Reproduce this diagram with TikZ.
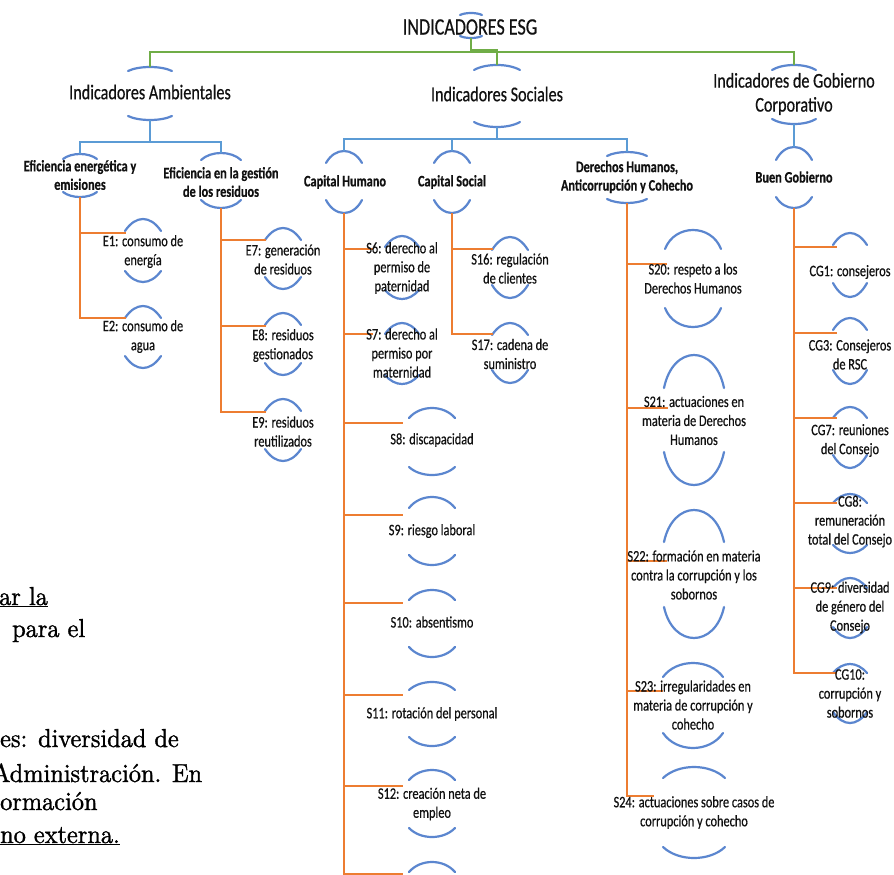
\documentclass[tikz,border=0pt]{standalone}
\usepackage{fontspec}
\newfontfamily\dfont{Carlito}[FakeStretch=0.77,FakeBold=0.5]
\newfontfamily\bodyfont{lmroman10-regular.otf}[FakeBold=1.2,FakeStretch=0.935]
\definecolor{arcblue}{HTML}{5B86CF}
\definecolor{lnblue}{HTML}{5B9BD5}
\definecolor{lngreen}{HTML}{70AD47}
\definecolor{lnorange}{HTML}{ED7D31}
\definecolor{txt}{HTML}{111111}
\tikzset{
  arcst/.style={draw=arcblue, line width=2.2pt, line cap=round},
  gline/.style={draw=lngreen, line width=2pt},
  bline/.style={draw=lnblue, line width=2.5pt},
  oline/.style={draw=lnorange, line width=2.5pt},
  ttlst/.style={font=\dfont\fontsize{23.5}{27}\selectfont, text=txt, inner sep=0pt},
  lvone/.style={font=\dfont\fontsize{21}{24}\selectfont, text=txt, align=center, inner sep=0pt},
  lvtwo/.style={font=\dfont\bfseries\fontsize{16}{18.5}\selectfont, text=txt, align=center, inner sep=0pt},
  leaf/.style={font=\dfont\fontsize{16}{19}\selectfont, text=txt, align=center, inner sep=0pt},
  bodytxt/.style={font=\bodyfont\fontsize{26}{30}\selectfont, text=black, inner sep=0pt, anchor=base west},
}
% name, cx, ty, ht, by, hb, w, k
\newcommand\myarcs[8]{%
  \coordinate (#1-t) at (#2,#3);
  \coordinate (#1-b) at (#2,#5);
  \draw[arcst] ({#2-#7},{#3+#4}) .. controls ({#2-#8*#7},{#3-#4/3}) and ({#2+#8*#7},{#3-#4/3}) .. ({#2+#7},{#3+#4});
  \draw[arcst] ({#2-#7},{#5-#6}) .. controls ({#2-#8*#7},{#5+#6/3}) and ({#2+#8*#7},{#5+#6/3}) .. ({#2+#7},{#5-#6});
}
\begin{document}
\begin{tikzpicture}[x=1pt,y=-1pt]
\useasboundingbox (0,0) rectangle (894,875);
\fill[white] (0,0) rectangle (894,875);

% ---------- left body text (cut off) ----------
\node[bodytxt] (p1) at (-1,605) {\underline{ar la}};
\node[bodytxt] (p2) at (12,637) {para el};
\node[bodytxt] (p3) at (0,747) {es: diversidad de};
\node[bodytxt] (p4) at (-8,782) {Administración. En};
\node[bodytxt] (p5) at (0,810) {ormación};
\node[bodytxt] (p6) at (0,843) {\underline{no externa.}};

% ---------- arcs ----------
\myarcs{ttl}{471}{13}{2}{38}{2}{11}{0.5}
\myarcs{amb}{150}{67}{4}{120}{4}{22}{0.5}
\myarcs{soc}{497}{65}{5}{127}{5}{23}{0.5}
\myarcs{gob}{794}{65}{5}{124}{5}{22}{0.5}
\myarcs{effa}{80}{154}{5}{197}{5}{17}{0.5}
\myarcs{effb}{221}{153}{7}{208}{8}{20}{0.5}
\myarcs{ch}{344}{151}{12}{213}{13}{18}{0.5}
\myarcs{cs}{452}{151}{12}{213}{13}{18}{0.5}
\myarcs{dh}{627}{152}{4}{203}{4}{20}{0.5}
\myarcs{bg}{794}{147}{13}{208}{11}{18}{0.5}

\myarcs{ea}{143}{219}{12}{282}{11}{18}{0.4}
\myarcs{eb}{143}{306}{12}{368}{12}{18}{0.4}
\myarcs{eg}{283}{228}{12}{289}{12}{18}{0.4}
\myarcs{eh}{283}{313}{12}{375}{12}{18}{0.4}
\myarcs{ei}{283}{399}{12}{461}{12}{18}{0.4}

\myarcs{sf}{402}{236}{11}{299}{9}{17}{0.4}
\myarcs{sg}{402}{323}{11}{384}{9}{17}{0.4}
\myarcs{sp}{510}{237}{13}{298}{13}{18}{0.4}
\myarcs{sq}{510}{323}{12}{383}{13}{18}{0.4}

\myarcs{sh}{432}{408}{10}{475}{8}{23}{0.5}
\myarcs{si}{432}{497}{11}{565}{10}{23}{0.5}
\myarcs{sj}{432}{590}{10}{657}{10}{23}{0.5}
\myarcs{sk}{432}{682}{8}{746}{9}{23}{0.5}
\myarcs{sl}{432}{770}{10}{837}{9}{23}{0.5}
\myarcs{sm}{432}{862}{10}{930}{9}{23}{0.5}

\myarcs{st}{693}{230}{19}{327}{19}{28}{0.65}
\myarcs{su}{694}{355}{33}{485}{33}{30}{0.7}
\myarcs{sv}{694}{510}{32}{638}{31}{30}{0.7}
\myarcs{sw}{693}{663}{14}{748}{15}{30}{0.55}
\myarcs{sx}{694}{767}{11}{858}{11}{31}{0.5}

\myarcs{ca}{850}{233}{12}{297}{14}{17}{0.4}
\myarcs{cc}{850}{318}{12}{384}{14}{17}{0.4}
\myarcs{cg}{850}{407}{11}{468}{13}{17}{0.4}
\myarcs{ch8}{850}{494}{9}{553}{8}{17}{0.4}
\myarcs{ci}{850}{578}{10}{638}{11}{17}{0.4}
\myarcs{cj}{850}{664}{9}{723}{11}{17}{0.4}

% ---------- connector end points ----------
\coordinate (eac) at (126,233);
\coordinate (ebc) at (126,318);
\coordinate (egc) at (266,240);
\coordinate (ehc) at (266,326);
\coordinate (eic) at (266,412);
\coordinate (sfc) at (373,249);
\coordinate (sgc) at (373,334);
\coordinate (spc) at (493,249);
\coordinate (sqc) at (493,334);
\coordinate (shc) at (403,423);
\coordinate (sic) at (403,515);
\coordinate (sjc) at (403,603);
\coordinate (skc) at (403,695);
\coordinate (slc) at (403,786);
\coordinate (smc) at (403,874);
\coordinate (stc) at (667,264);
\coordinate (suc) at (668,408);
\coordinate (svc) at (667,561);
\coordinate (swc) at (663,691);
\coordinate (sxc) at (654,796);
\coordinate (cac) at (837,247);
\coordinate (ccc) at (837,333);
\coordinate (cgc) at (837,418);
\coordinate (chc) at (837,503);
\coordinate (cic) at (837,588);
\coordinate (cjc) at (837,673);

% ---------- connectors ----------
\draw[gline] (ttl-b) -- ++(0,14) -| (amb-t);
\draw[gline] (ttl-b) -- ++(0,12) -| (soc-t);
\draw[gline] (ttl-b) -- ++(0,14) -| (gob-t);

\draw[bline] (amb-b) -- ++(0,22) -| (effa-t);
\draw[bline] (amb-b) -- ++(0,22) -| (effb-t);
\draw[bline] (soc-b) -- ++(0,12) -| (ch-t);
\draw[bline] (soc-b) -- ++(0,12) -| (cs-t);
\draw[bline] (soc-b) -- ++(0,12) -| (dh-t);
\draw[bline] (gob-b) -- (bg-t);

\foreach \c in {eac,ebc} \draw[oline] (effa-b) |- (\c);
\foreach \c in {egc,ehc,eic} \draw[oline] (effb-b) |- (\c);
\foreach \c in {sfc,sgc,shc,sic,sjc,skc,slc,smc} \draw[oline] (ch-b) |- (\c);
\draw[oline] (smc -| ch-b) -- ++(0,3);
\foreach \c in {spc,sqc} \draw[oline] (cs-b) |- (\c);
\foreach \c in {stc,suc,svc,swc,sxc} \draw[oline] (dh-b) |- (\c);
\foreach \c in {cac,ccc,cgc,chc,cic,cjc} \draw[oline] (bg-b) |- (\c);

% ---------- texts ----------
\node[ttlst] (ttl) at (470,27) {INDICADORES ESG};
\node[lvone] (amb) at (150,92) {Indicadores Ambientales};
\node[lvone] (soc) at (497,94) {Indicadores Sociales};
\node[lvone] (gob) at (794,94) {Indicadores de Gobierno\\Corporativo};

\node[lvtwo] (effa) at (80,175) {Eficiencia energética y\\emisiones};
\node[lvtwo] (effb) at (221,182) {Eficiencia en la gestión\\de los residuos};
\node[lvtwo] (ch) at (345,182) {Capital Humano};
\node[lvtwo] (cs) at (452,182) {Capital Social};
\node[lvtwo] (dh) at (627,177) {Derechos Humanos,\\Anticorrupción y Cohecho};
\node[lvtwo] (bg) at (794,177) {Buen Gobierno};

\node[leaf] (ea) at (143,251.5) {E1: consumo de\\energía};
\node[leaf] (eb) at (143,336.5) {E2: consumo de\\agua};
\node[leaf] (eg) at (283,259.5) {E7: generación\\de residuos};
\node[leaf] (eh) at (283,345.5) {E8: residuos\\gestionados};
\node[leaf] (ei) at (283,431.5) {E9: residuos\\reutilizados};

\node[leaf] (sf) at (402,268) {S6: derecho al\\permiso de\\paternidad};
\node[leaf] (sg) at (402,353) {S7: derecho al\\permiso por\\maternidad};
\node[leaf] (sp) at (510,268.5) {S16: regulación\\de clientes};
\node[leaf] (sq) at (510,354) {S17: cadena de\\suministro};

\node[leaf] (sh) at (432,440) {S8: discapacidad};
\node[leaf] (si) at (432,531) {S9: riesgo laboral};
\node[leaf] (sj) at (432,622) {S10: absentismo};
\node[leaf] (sk) at (432,714) {S11: rotación del personal};
\node[leaf] (sl) at (432,804) {S12: creación neta de\\empleo};

\node[leaf] (st) at (693,278.5) {S20: respeto a los\\Derechos Humanos};
\node[leaf] (su) at (694,420.5) {S21: actuaciones en\\materia de Derechos\\Humanos};
\node[leaf] (sv) at (694,575) {S22: formación en materia\\contra la corrupción y los\\sobornos};
\node[leaf] (sw) at (693,705) {S23: irregularidades en\\materia de corrupción y\\cohecho};
\node[leaf] (sx) at (694,812.5) {S24: actuaciones sobre casos de\\corrupción y cohecho};

\node[leaf] (ca) at (850,272) {CG1: consejeros};
\node[leaf] (cc) at (850,354.5) {CG3: Consejeros\\de RSC};
\node[leaf] (cg) at (850,440.5) {CG7: reuniones\\del Consejo};
\node[leaf] (ch8) at (850,521.5) {CG8:\\remuneración\\total del Consejo};
\node[leaf] (ci) at (850,607.5) {CG9: diversidad\\de género del\\Consejo};
\node[leaf] (cj) at (850,693.5) {CG10:\\corrupción y\\sobornos};
\end{tikzpicture}
\end{document}
